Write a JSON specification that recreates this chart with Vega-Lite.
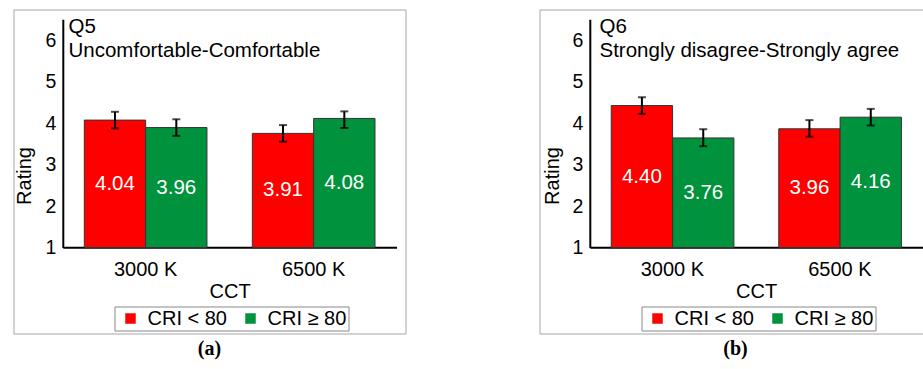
{
  "$schema": "https://vega.github.io/schema/vega-lite/v6.json",
  "padding": {"left": 12.5, "top": 8.5, "right": 0, "bottom": 0},
  "spacing": 132,
  "config": {
    "font": "Liberation Sans",
    "view": {"stroke": "#a6a6a6", "strokeWidth": 1},
    "axis": {"labelFont": "Liberation Sans", "titleFont": "Liberation Sans"},
    "legend": {"labelFont": "Liberation Sans"}
  },
  "datasets": {
    "q5": [
      {"cct": "3000 K", "cri": "CRI < 80", "rating": 4.07, "lo": 3.87, "hi": 4.27, "label": "4.04"},
      {"cct": "3000 K", "cri": "CRI ≥ 80", "rating": 3.89, "lo": 3.69, "hi": 4.09, "label": "3.96"},
      {"cct": "6500 K", "cri": "CRI < 80", "rating": 3.75, "lo": 3.55, "hi": 3.95, "label": "3.91"},
      {"cct": "6500 K", "cri": "CRI ≥ 80", "rating": 4.11, "lo": 3.88, "hi": 4.28, "label": "4.08"}
    ],
    "q6": [
      {"cct": "3000 K", "cri": "CRI < 80", "rating": 4.42, "lo": 4.22, "hi": 4.62, "label": "4.40"},
      {"cct": "3000 K", "cri": "CRI ≥ 80", "rating": 3.64, "lo": 3.44, "hi": 3.85, "label": "3.76"},
      {"cct": "6500 K", "cri": "CRI < 80", "rating": 3.86, "lo": 3.67, "hi": 4.07, "label": "3.96"},
      {"cct": "6500 K", "cri": "CRI ≥ 80", "rating": 4.14, "lo": 3.94, "hi": 4.34, "label": "4.16"}
    ]
  },
  "resolve": {
    "scale": {"x": "independent", "y": "independent", "color": "independent"},
    "axis": {"x": "independent", "y": "independent"},
    "legend": {"color": "independent"}
  },
  "hconcat": [
    {
      "title": {"text": "(a)", "orient": "bottom", "anchor": "middle", "font": "Liberation Serif", "fontSize": 20, "fontWeight": "bold", "offset": 5, "color": "black"},
      "vconcat": [
        {
          "width": 392,
          "height": 324,
          "data": {"name": "q5"},
          "title": {"text": ["Q5", "Uncomfortable-Comfortable"], "anchor": "start", "frame": "group", "dx": 55, "offset": -52, "fontSize": 20.5, "fontWeight": "normal", "lineHeight": 24.5, "color": "black", "font": "Liberation Sans"},
          "encoding": {
            "x": {"field": "cct", "type": "nominal", "sort": ["3000 K", "6500 K"], "title": "CCT",
              "scale": {"range": [49.3, 383], "paddingInner": 0.27, "paddingOuter": 0.128},
              "axis": {"orient": "bottom", "offset": -86.3, "domainColor": "black", "domainWidth": 2, "ticks": false, "labelAngle": 0, "labelFontSize": 20, "labelColor": "black", "labelPadding": 12, "titleFontSize": 20, "titleFontWeight": "normal", "titleColor": "black", "titlePadding": 2}},
            "xOffset": {"field": "cri", "type": "nominal", "sort": ["CRI < 80", "CRI ≥ 80"], "scale": {"paddingInner": 0, "paddingOuter": 0}}
          },
          "layer": [
            {
              "layer": [
                {
                  "mark": {"type": "bar", "stroke": "#333333", "strokeWidth": 1},
                  "encoding": {
                    "y": {"field": "rating", "type": "quantitative", "title": "Rating",
                      "scale": {"domain": [1, 6.5], "range": [238, 9.75], "nice": false, "zero": false},
                      "axis": {"orient": "left", "offset": -49.3, "domainColor": "black", "domainWidth": 2, "ticks": false, "grid": false, "values": [1, 2, 3, 4, 5, 6], "format": "d", "labelFontSize": 19.5, "labelColor": "black", "labelPadding": 7, "titleFontSize": 20, "titleFontWeight": "normal", "titleColor": "black", "titleX": -38.3, "titleY": 166, "titleAngle": -90, "titleAlign": "center", "titleBaseline": "middle"}},
                    "y2": {"datum": 1},
                    "color": {"field": "cri", "type": "nominal",
                      "scale": {"domain": ["CRI < 80", "CRI ≥ 80"], "range": ["#ff0000", "#00923c"]},
                      "legend": {"orient": "none", "legendX": 101, "legendY": 297, "direction": "horizontal", "columns": 2, "title": null, "symbolType": "square", "symbolSize": 110, "symbolStrokeWidth": 0, "symbolOffset": 4, "labelFontSize": 20, "labelColor": "black", "labelOffset": 7, "columnPadding": 9, "padding": 2, "strokeColor": "#888888", "fillColor": "white"}}
                  }
                },
                {
                  "mark": {"type": "rule", "color": "black", "strokeWidth": 2},
                  "encoding": {
                    "y": {"field": "lo", "type": "quantitative", "title": "Rating", "scale": {"domain": [1, 6.5], "range": [238, 9.75], "nice": false, "zero": false}},
                    "y2": {"field": "hi"}
                  }
                },
                {
                  "mark": {"type": "tick", "color": "black", "thickness": 2, "size": 8},
                  "encoding": {
                    "y": {"field": "lo", "type": "quantitative", "title": "Rating", "scale": {"domain": [1, 6.5], "range": [238, 9.75], "nice": false, "zero": false}}
                  }
                },
                {
                  "mark": {"type": "tick", "color": "black", "thickness": 2, "size": 8},
                  "encoding": {
                    "y": {"field": "hi", "type": "quantitative", "title": "Rating", "scale": {"domain": [1, 6.5], "range": [238, 9.75], "nice": false, "zero": false}}
                  }
                }
              ]
            },
            {
              "mark": {"type": "text", "color": "white", "fontSize": 20.5, "baseline": "middle", "font": "Liberation Sans"},
              "encoding": {
                "y": {"field": "rating", "type": "quantitative", "scale": {"domain": [1, 6.5], "range": [238, 123.875], "nice": false, "zero": false}, "axis": null},
                "text": {"field": "label"}
              }
            }
          ],
          "resolve": {"scale": {"y": "independent"}, "axis": {"y": "independent"}}
        }
      ]
    },
    {
      "title": {"text": "(b)", "orient": "bottom", "anchor": "middle", "font": "Liberation Serif", "fontSize": 20, "fontWeight": "bold", "offset": 5, "color": "black"},
      "vconcat": [
        {
          "width": 392,
          "height": 324,
          "data": {"name": "q6"},
          "title": {"text": ["Q6", "Strongly disagree-Strongly agree"], "anchor": "start", "frame": "group", "dx": 60, "offset": -52, "fontSize": 20.5, "fontWeight": "normal", "lineHeight": 24.5, "color": "black", "font": "Liberation Sans"},
          "encoding": {
            "x": {"field": "cct", "type": "nominal", "sort": ["3000 K", "6500 K"], "title": "CCT",
              "scale": {"range": [50.3, 383], "paddingInner": 0.27, "paddingOuter": 0.128},
              "axis": {"orient": "bottom", "offset": -86.3, "domainColor": "black", "domainWidth": 2, "ticks": false, "labelAngle": 0, "labelFontSize": 20, "labelColor": "black", "labelPadding": 12, "titleFontSize": 20, "titleFontWeight": "normal", "titleColor": "black", "titlePadding": 2}},
            "xOffset": {"field": "cri", "type": "nominal", "sort": ["CRI < 80", "CRI ≥ 80"], "scale": {"paddingInner": 0, "paddingOuter": 0}}
          },
          "layer": [
            {
              "layer": [
                {
                  "mark": {"type": "bar", "stroke": "#333333", "strokeWidth": 1},
                  "encoding": {
                    "y": {"field": "rating", "type": "quantitative", "title": "Rating",
                      "scale": {"domain": [1, 6.5], "range": [238, 9.75], "nice": false, "zero": false},
                      "axis": {"orient": "left", "offset": -50.3, "domainColor": "black", "domainWidth": 2, "ticks": false, "grid": false, "values": [1, 2, 3, 4, 5, 6], "format": "d", "labelFontSize": 19.5, "labelColor": "black", "labelPadding": 7, "titleFontSize": 20, "titleFontWeight": "normal", "titleColor": "black", "titleX": -37.3, "titleY": 166, "titleAngle": -90, "titleAlign": "center", "titleBaseline": "middle"}},
                    "y2": {"datum": 1},
                    "color": {"field": "cri", "type": "nominal",
                      "scale": {"domain": ["CRI < 80", "CRI ≥ 80"], "range": ["#ff0000", "#00923c"]},
                      "legend": {"orient": "none", "legendX": 102, "legendY": 297, "direction": "horizontal", "columns": 2, "title": null, "symbolType": "square", "symbolSize": 110, "symbolStrokeWidth": 0, "symbolOffset": 4, "labelFontSize": 20, "labelColor": "black", "labelOffset": 7, "columnPadding": 9, "padding": 2, "strokeColor": "#888888", "fillColor": "white"}}
                  }
                },
                {
                  "mark": {"type": "rule", "color": "black", "strokeWidth": 2},
                  "encoding": {
                    "y": {"field": "lo", "type": "quantitative", "title": "Rating", "scale": {"domain": [1, 6.5], "range": [238, 9.75], "nice": false, "zero": false}},
                    "y2": {"field": "hi"}
                  }
                },
                {
                  "mark": {"type": "tick", "color": "black", "thickness": 2, "size": 8},
                  "encoding": {
                    "y": {"field": "lo", "type": "quantitative", "title": "Rating", "scale": {"domain": [1, 6.5], "range": [238, 9.75], "nice": false, "zero": false}}
                  }
                },
                {
                  "mark": {"type": "tick", "color": "black", "thickness": 2, "size": 8},
                  "encoding": {
                    "y": {"field": "hi", "type": "quantitative", "title": "Rating", "scale": {"domain": [1, 6.5], "range": [238, 9.75], "nice": false, "zero": false}}
                  }
                }
              ]
            },
            {
              "mark": {"type": "text", "color": "white", "fontSize": 20.5, "baseline": "middle", "font": "Liberation Sans"},
              "encoding": {
                "y": {"field": "rating", "type": "quantitative", "scale": {"domain": [1, 6.5], "range": [238, 123.875], "nice": false, "zero": false}, "axis": null},
                "text": {"field": "label"}
              }
            }
          ],
          "resolve": {"scale": {"y": "independent"}, "axis": {"y": "independent"}}
        }
      ]
    }
  ]
}
